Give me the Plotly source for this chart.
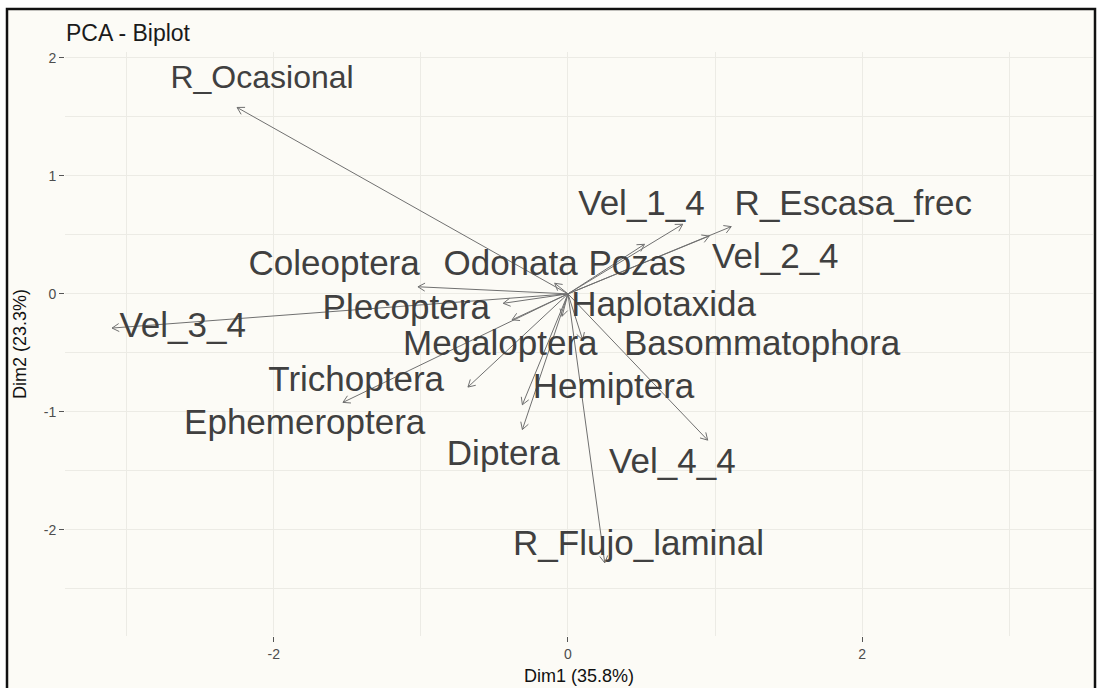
import math
import plotly.graph_objects as go

# ---------------- data ----------------
variables = ["R_Ocasional", "Vel_3_4", "Coleoptera", "Odonata", "Pozas",
             "Vel_1_4", "R_Escasa_frec", "Vel_2_4", "Haplotaxida", "Plecoptera",
             "Megaloptera", "Basommatophora", "Trichoptera", "Hemiptera",
             "Ephemeroptera", "Diptera", "Vel_4_4", "R_Flujo_laminal"]
dim1 = [-2.25, -3.10, -1.02, -0.09, 0.52,
        0.78, 1.11, 0.96, -0.04, -0.44,
        -0.38, 0.10, -0.68, -0.31,
        -1.53, -0.31, 0.95, 0.25]
dim2 = [1.58, -0.29, 0.06, 0.09, 0.42,
        0.59, 0.57, 0.49, -0.19, -0.08,
        -0.22, -0.39, -0.79, -0.94,
        -0.92, -1.15, -1.24, -2.28]
# label anchor positions (repelled labels), data units
label_x = [-2.08, -2.62, -1.59, -0.39, 0.47,
           0.50, 1.94, 1.41, 0.65, -1.10,
           -0.46, 1.32, -1.44, 0.31,
           -1.79, -0.44, 0.71, 0.48]
label_y = [1.81, -0.29, 0.23, 0.23, 0.23,
           0.74, 0.74, 0.29, -0.11, -0.14,
           -0.44, -0.44, -0.75, -0.81,
           -1.11, -1.38, -1.44, -2.14]

x_ticks = [-2, 0, 2]
y_ticks = [-2, -1, 0, 1, 2]
title_text = "PCA - Biplot"
x_title = "Dim1 (35.8%)"
y_title = "Dim2 (23.3%)"

# ---------------- layout geometry ----------------
W_FIG, H_FIG = 1097, 688
M_L, M_R, M_T, M_B = 65, 4, 52, 52
X_RANGE = [-3.42, 3.57]
Y_RANGE = [-2.90, 2.05]
PW = W_FIG - M_L - M_R
PH = H_FIG - M_T - M_B
sx = PW / (X_RANGE[1] - X_RANGE[0])
sy = PH / (Y_RANGE[1] - Y_RANGE[0])

BG = "#fcfbf6"
GRID = "#ecebe5"
ARROW = "#707070"
TEXT = "#404040"

fig = go.Figure()

# arrow shafts
shaft_x, shaft_y = [], []
for x, y in zip(dim1, dim2):
    shaft_x += [0, x, None]
    shaft_y += [0, y, None]
fig.add_trace(go.Scatter(x=shaft_x, y=shaft_y, mode="lines",
                         line=dict(color=ARROW, width=1), hoverinfo="skip",
                         showlegend=False))

# open arrowheads (computed in pixel space)
head_len = 8.0
head_ang = math.radians(30)
hx, hy = [], []
for x, y in zip(dim1, dim2):
    px, py = x * sx, y * sy
    L = math.hypot(px, py)
    if L == 0:
        continue
    ux, uy = px / L, py / L
    wings = []
    for s in (1, -1):
        a = s * head_ang
        rx = ux * math.cos(a) - uy * math.sin(a)
        ry = ux * math.sin(a) + uy * math.cos(a)
        wings.append((x - head_len * rx / sx, y - head_len * ry / sy))
    hx += [wings[0][0], x, wings[1][0], None]
    hy += [wings[0][1], y, wings[1][1], None]
fig.add_trace(go.Scatter(x=hx, y=hy, mode="lines",
                         line=dict(color=ARROW, width=1), hoverinfo="skip",
                         showlegend=False))

# labels
sizes = [32 if v == "R_Ocasional" else 35 for v in variables]
fig.add_trace(go.Scatter(x=label_x, y=label_y, mode="text", text=variables,
                         textposition="middle center",
                         textfont=dict(family="Liberation Sans, Arial, sans-serif",
                                       size=sizes, color=TEXT),
                         hoverinfo="skip", showlegend=False))

# dashed zero lines
fig.add_shape(type="line", xref="x", yref="paper", x0=0, x1=0, y0=-0.01, y1=1,
              line=dict(color="#1e1e1e", width=1.3, dash="4px,3px"), layer="below")
fig.add_shape(type="line", xref="paper", yref="y", x0=0, x1=1, y0=0, y1=0,
              line=dict(color="#1e1e1e", width=1.3, dash="4px,3px"), layer="below")

# outer frame (screenshot border)
def xp(px):
    return (px - M_L) / PW

def yp(py):
    return (H_FIG - M_B - py) / PH

fig.add_shape(type="rect", xref="paper", yref="paper",
              x0=xp(7), x1=xp(1095), y0=yp(695), y1=yp(9),
              line=dict(color="#111111", width=2.5), fillcolor=BG, layer="below")

fig.add_annotation(text=title_text, xref="paper", yref="paper",
                   x=xp(64), y=yp(33), xanchor="left", yanchor="middle",
                   showarrow=False,
                   font=dict(family="Liberation Sans, Arial", size=23, color="#1a1a1a"))
fig.add_annotation(text=x_title, xref="paper", yref="paper",
                   x=0.5, y=yp(676), xanchor="center", yanchor="middle",
                   showarrow=False,
                   font=dict(family="Liberation Sans, Arial", size=18, color="#111111"))
fig.add_annotation(text=y_title, xref="paper", yref="paper",
                   x=xp(20), y=0.5, xanchor="center", yanchor="middle",
                   textangle=-90, showarrow=False,
                   font=dict(family="Liberation Sans, Arial", size=18, color="#111111"))

axis_common = dict(showline=False, zeroline=False, ticks="outside", ticklen=5,
                   tickcolor="#555555", tickwidth=1,
                   tickfont=dict(family="Liberation Sans, Arial", size=14, color="#4d4d4d"),
                   showgrid=True, gridcolor=GRID, gridwidth=1)

fig.update_layout(
    width=W_FIG, height=H_FIG,
    margin=dict(l=M_L, r=M_R, t=M_T, b=M_B),
    paper_bgcolor="white", plot_bgcolor=BG,
    showlegend=False,
    xaxis=dict(range=X_RANGE, tickvals=x_ticks, ticktext=[str(v) for v in x_ticks],
               minor=dict(tickvals=[-3, -1, 1, 3], showgrid=True, gridcolor=GRID, ticks=""),
               **axis_common),
    yaxis=dict(range=Y_RANGE, tickvals=y_ticks, ticktext=[str(v) for v in y_ticks],
               minor=dict(tickvals=[-2.5, -1.5, -0.5, 0.5, 1.5], showgrid=True,
                          gridcolor=GRID, ticks=""),
               **axis_common),
)

fig.write_html("out.html",
               config={"displayModeBar": False},
               post_script="document.body.style.margin='0px';"
                           "document.body.style.overflow='hidden';")
